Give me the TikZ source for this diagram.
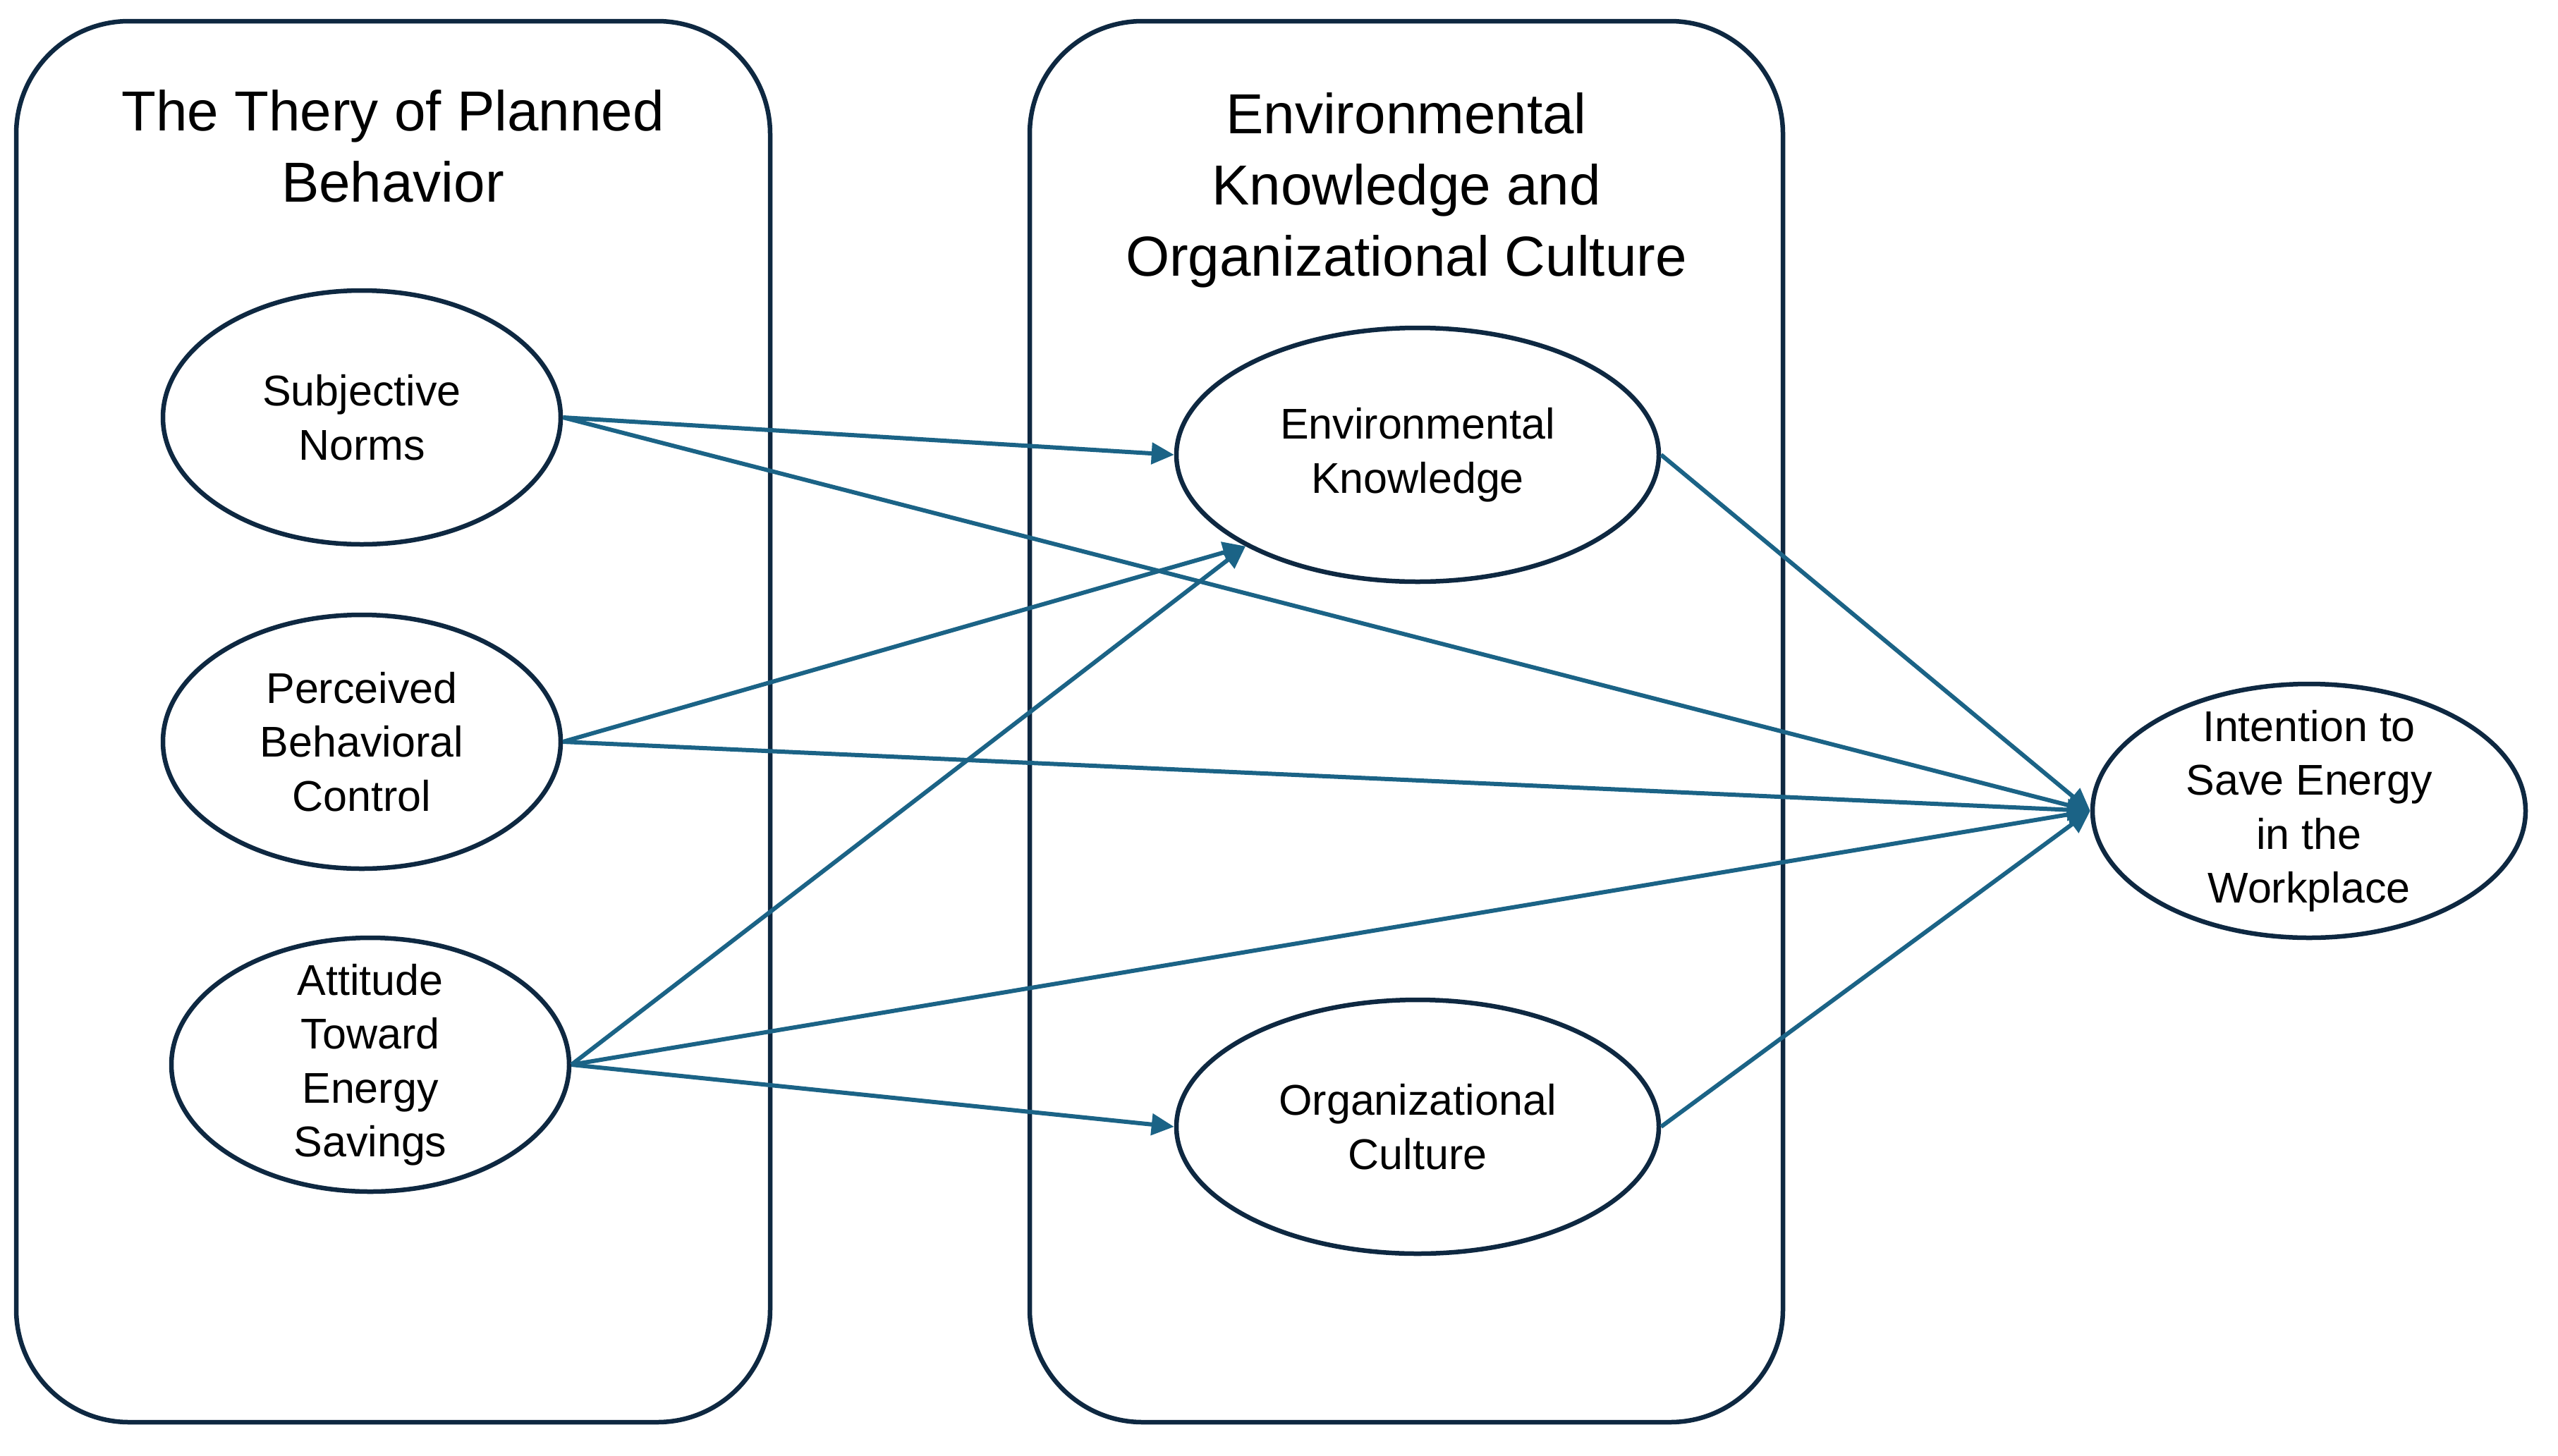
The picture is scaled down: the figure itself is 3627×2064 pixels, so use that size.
\documentclass[tikz,border=0pt]{standalone}
\usepackage{fontspec}
\setmainfont{Liberation Sans}
\usetikzlibrary{shapes.geometric,arrows.meta}
\definecolor{boxline}{HTML}{0E2841}
\definecolor{arrowc}{HTML}{1B6386}
\begin{document}
\begin{tikzpicture}[x=1pt,y=-1pt,
 grp/.style={rectangle,draw=boxline,line width=6.5pt,rounded corners=160pt,inner sep=0pt},
 ell/.style={ellipse,draw=boxline,line width=6.5pt,minimum width=564pt,minimum height=360pt,inner sep=0pt},
 lbl/.style={align=center,font=\fontsize{61}{76.5}\selectfont},
 ttl/.style={align=center,font=\fontsize{80}{101}\selectfont},
 link/.style={draw=arrowc,line width=6pt,-{Triangle[length=32pt,width=30pt]}}]
\useasboundingbox (0,0) rectangle (3627,2064);
\node[grp,minimum width=1069pt,minimum height=1987pt] (lbox) at (557.5,1023.5) {};
\node[grp,minimum width=1068pt,minimum height=1987pt] (mbox) at (1994,1023.5) {};
\node[ttl] (ltitle) at (557,207) {The Thery of Planned\\Behavior};
\node[ttl] (mtitle) at (1994,270) {Environmental\\Knowledge and\\Organizational Culture};
\node[ell,label={[lbl]center:Subjective\\Norms}] (sn) at (513,592) {};
\node[ell,label={[lbl]center:Perceived\\Behavioral\\Control}] (pbc) at (513,1052) {};
\node[ell,label={[lbl]center:Attitude\\Toward\\Energy\\Savings}] (ates) at (525,1510) {};
\node[ell,minimum width=684pt,label={[lbl]center:Environmental\\Knowledge}] (ek) at (2010,645) {};
\node[ell,minimum width=684pt,label={[lbl]center:Organizational\\Culture}] (oc) at (2010,1598) {};
\node[ell,minimum width=614pt,label={[lbl]center:Intention to\\Save Energy\\in the\\Workplace}] (int) at (3274,1150) {};
\draw[link] (sn.east) -- (ek.west);
\draw[link] (sn.east) -- (int.west);
\draw[link] (pbc.east) -- (ek.208);
\draw[link] (pbc.east) -- (int.west);
\draw[link] (ates.east) -- (ek.208);
\draw[link] (ates.east) -- (int.west);
\draw[link] (ates.east) -- (oc.west);
\draw[link] (ek.east) -- (int.west);
\draw[link] (oc.east) -- (int.west);
\end{tikzpicture}
\end{document}
